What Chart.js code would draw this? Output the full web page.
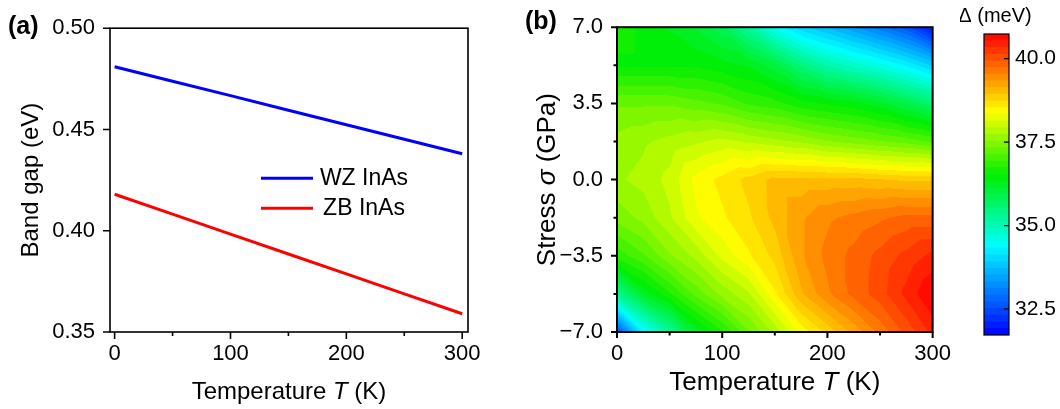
<!DOCTYPE html>
<html>
<head>
<meta charset="utf-8">
<title>InAs band gap and Δ(T, σ)</title>
<script src="https://cdn.jsdelivr.net/npm/chart.js@4.4.1/dist/chart.umd.min.js"></script>
<style>
  html, body { margin: 0; padding: 0; background: #ffffff; }
  #wrap { position: relative; width: 1060px; height: 409px; overflow: hidden; }
  .panel { position: absolute; top: 0; height: 409px; }
  canvas { display: block; }
</style>
</head>
<body>
<div id="wrap">
  <div class="panel" style="left:0;width:520px"><canvas id="gapChart" width="520" height="409"></canvas></div>
  <div class="panel" style="left:520px;width:440px"><canvas id="mapChart" width="440" height="409"></canvas></div>
  <div class="panel" style="left:960px;width:100px"><canvas id="barChart" width="100" height="409"></canvas></div>
</div>
<script>
const FONT = '"Liberation Sans", Arial, Helvetica, sans-serif';

// ---- (a) band gap versus temperature ----
const TEMP_A = [0, 50, 100, 150, 200, 250, 300];
const GAP_WZ = [0.4810, 0.4738, 0.4667, 0.4595, 0.4523, 0.4452, 0.4380];
const GAP_ZB = [0.4180, 0.4082, 0.3983, 0.3885, 0.3787, 0.3688, 0.3590];
const SERIES_NAMES = ['WZ InAs', 'ZB InAs'];
const GAP_TICKS = [0.35, 0.40, 0.45, 0.50];
const TEMP_TICKS = [0, 100, 200, 300];
const TEMP_MINOR = [50, 150, 250];

// ---- (b) splitting Δ (meV) over temperature and stress ----
const MAP_TEMPS = [0, 25, 50, 75, 100, 125, 150, 175, 200, 225, 250, 275, 300];
const MAP_STRESS = [-7, -5.25, -3.5, -1.75, 0, 1.75, 3.5, 5.25, 7];
// one row per stress value (low to high), one column per temperature
const DELTA_MEV = [
  [32.5, 34.3, 35.2, 36.2, 36.7, 37.3, 37.8, 38.4, 38.8, 39.2, 39.6, 40.0, 40.4],
  [35.3, 36.2, 36.7, 37.2, 37.6, 37.9, 38.5, 39.1, 39.5, 39.8, 40.05, 40.4, 40.74],
  [36.8, 37.1, 37.5, 37.8, 38.2, 38.5, 38.8, 39.3, 39.6, 39.8, 40.0, 40.2, 40.4],
  [37.4, 37.6, 37.9, 38.3, 38.5, 38.7, 39.0, 39.3, 39.5, 39.6, 39.7, 39.8, 39.8],
  [37.7, 37.8, 38.0, 38.4, 38.6, 38.8, 39.0, 39.0, 39.0, 39.0, 38.95, 38.9, 38.9],
  [37.6, 37.7, 37.8, 37.9, 38.0, 37.9, 37.8, 37.7, 37.55, 37.45, 37.35, 37.25, 37.1],
  [37.3, 37.3, 37.3, 37.2, 37.1, 36.9, 36.8, 36.6, 36.5, 36.4, 36.2, 35.9, 35.6],
  [36.5, 36.5, 36.5, 36.5, 36.4, 36.3, 36.0, 35.5, 35.1, 34.85, 34.6, 34.3, 33.9],
  [36.6, 36.5, 36.3, 36.1, 35.8, 35.2, 34.5, 34.0, 33.7, 33.35, 33.0, 32.6, 31.9]
];
const STRESS_TICKS = [-7, -3.5, 0, 3.5, 7];
const STRESS_MINOR = [-5.25, -1.75, 1.75, 5.25];
const DELTA_TICKS = [32.5, 35.0, 37.5, 40.0];
const DELTA_MIN = 31.72;
const DELTA_MAX = 40.74;
const N_BANDS = 45;

// rainbow palette used for the contour levels
const PALETTE = [
  [31.72, [0, 0, 255]],
  [34.40, [0, 255, 255]],
  [36.50, [0, 238, 0]],
  [38.40, [255, 255, 0]],
  [40.74, [255, 0, 0]]
];
function paletteColor(v) {
  if (v <= PALETTE[0][0]) return PALETTE[0][1];
  for (let k = 1; k < PALETTE.length; k++) {
    const [v1, c1] = PALETTE[k];
    const [v0, c0] = PALETTE[k - 1];
    if (v <= v1) {
      const f = (v - v0) / (v1 - v0);
      return c0.map((c, i) => Math.round(c + f * (c1[i] - c)));
    }
  }
  return PALETTE[PALETTE.length - 1][1];
}
const BAND_STEP = (DELTA_MAX - DELTA_MIN) / N_BANDS;
const BAND_COLORS = Array.from({ length: N_BANDS }, (_, i) => paletteColor(DELTA_MIN + (i + 0.5) * BAND_STEP));
const rgb = c => `rgb(${c[0]},${c[1]},${c[2]})`;
function bandIndex(v) {
  return Math.min(N_BANDS - 1, Math.max(0, Math.floor((v - DELTA_MIN) / BAND_STEP)));
}

// piecewise-linear (triangulated) value inside the T–σ grid
function locate(arr, v) {
  let i = 0;
  while (i < arr.length - 2 && v > arr[i + 1]) i++;
  return i;
}
function deltaAt(t, s) {
  const i = locate(MAP_TEMPS, t), j = locate(MAP_STRESS, s);
  const fx = Math.min(1, Math.max(0, (t - MAP_TEMPS[i]) / (MAP_TEMPS[i + 1] - MAP_TEMPS[i])));
  const fy = Math.min(1, Math.max(0, (s - MAP_STRESS[j]) / (MAP_STRESS[j + 1] - MAP_STRESS[j])));
  const v00 = DELTA_MEV[j][i], v10 = DELTA_MEV[j][i + 1];
  const v01 = DELTA_MEV[j + 1][i], v11 = DELTA_MEV[j + 1][i + 1];
  if (fx + fy <= 1) return v00 + fx * (v10 - v00) + fy * (v01 - v00);
  return v11 + (1 - fx) * (v01 - v11) + (1 - fy) * (v10 - v11);
}

// ---- shared plugins ----
// frame around the plot area plus major / minor tick marks
function axisMarks(frameWidth, marks) {
  return {
    id: 'axisMarks',
    afterDraw(chart) {
      const { ctx, chartArea: a } = chart;
      ctx.save();
      ctx.strokeStyle = '#000';
      ctx.lineCap = 'butt';
      for (const m of marks) {
        const sc = chart.scales[m.scale];
        ctx.lineWidth = m.width || frameWidth;
        ctx.beginPath();
        for (const v of m.values) {
          const p = sc.getPixelForValue(v);
          if (m.side === 'bottom') {
            const y0 = a.bottom, y1 = m.inward ? a.bottom - m.length : a.bottom + m.length;
            ctx.moveTo(p, y0); ctx.lineTo(p, y1);
          } else if (m.side === 'left') {
            const x0 = a.left, x1 = m.inward ? a.left + m.length : a.left - m.length;
            ctx.moveTo(x0, p); ctx.lineTo(x1, p);
          } else {
            const x0 = a.right, x1 = m.inward ? a.right - m.length : a.right + m.length;
            ctx.moveTo(x0, p); ctx.lineTo(x1, p);
          }
        }
        ctx.stroke();
      }
      ctx.lineWidth = frameWidth;
      ctx.strokeRect(a.left, a.top, a.right - a.left, a.bottom - a.top);
      ctx.restore();
    }
  };
}

// text made of plain and italic runs, placed relative to the plot area
function richText(items) {
  return {
    id: 'richText',
    afterDraw(chart) {
      const ctx = chart.ctx;
      for (const it of items) {
        const x = typeof it.x === 'function' ? it.x(chart) : it.x;
        const y = typeof it.y === 'function' ? it.y(chart) : it.y;
        const fontOf = s => `${s.italic ? 'italic ' : ''}${it.bold ? 'bold ' : ''}${it.size}px ${FONT}`;
        ctx.save();
        ctx.translate(x, y);
        if (it.rotate) ctx.rotate(it.rotate);
        ctx.fillStyle = '#000';
        ctx.textBaseline = 'middle';
        ctx.textAlign = 'left';
        let total = 0;
        for (const s of it.runs) { ctx.font = fontOf(s); total += ctx.measureText(s.text).width; }
        let cx = it.align === 'center' ? -total / 2 : 0;
        for (const s of it.runs) {
          ctx.font = fontOf(s);
          ctx.fillText(s.text, cx, 0);
          cx += ctx.measureText(s.text).width;
        }
        ctx.restore();
      }
    }
  };
}

// in-plot legend for panel (a)
const gapLegend = {
  id: 'gapLegend',
  afterDraw(chart) {
    const { ctx, chartArea: a } = chart;
    ctx.save();
    chart.data.datasets.forEach((ds, k) => {
      const y = a.top + 150 + k * 30;
      ctx.strokeStyle = ds.borderColor;
      ctx.lineWidth = ds.borderWidth;
      ctx.beginPath();
      ctx.moveTo(a.left + 151, y);
      ctx.lineTo(a.left + 203, y);
      ctx.stroke();
      ctx.fillStyle = '#000';
      ctx.font = `23px ${FONT}`;
      ctx.textAlign = 'center';
      ctx.textBaseline = 'middle';
      ctx.fillText(ds.label, a.left + 254, y);
    });
    ctx.restore();
  }
};

// filled contour map drawn behind the frame, sampled through the chart scales
const contourFill = {
  id: 'contourFill',
  beforeDatasetsDraw(chart) {
    const { ctx, chartArea: a, scales: { x, y } } = chart;
    const ss = 2;
    const w = Math.round(a.right - a.left), h = Math.round(a.bottom - a.top);
    const off = document.createElement('canvas');
    off.width = w * ss; off.height = h * ss;
    const octx = off.getContext('2d');
    const img = octx.createImageData(w * ss, h * ss);
    for (let py = 0; py < h * ss; py++) {
      const s = y.getValueForPixel(a.top + (py + 0.5) / ss);
      for (let px = 0; px < w * ss; px++) {
        const t = x.getValueForPixel(a.left + (px + 0.5) / ss);
        const c = BAND_COLORS[bandIndex(deltaAt(t, s))];
        const o = (py * w * ss + px) * 4;
        img.data[o] = c[0]; img.data[o + 1] = c[1]; img.data[o + 2] = c[2]; img.data[o + 3] = 255;
      }
    }
    octx.putImageData(img, 0, 0);
    ctx.save();
    ctx.imageSmoothingEnabled = true;
    ctx.drawImage(off, a.left, a.top, w, h);
    ctx.restore();
  }
};

const tickFont = { family: FONT, size: 22 };
const noGrid = { display: false, drawTicks: false, tickLength: 0 };
const pinTicks = values => scale => { scale.ticks = values.map(v => ({ value: v })); };

// ---- (a) ----
new Chart(document.getElementById('gapChart'), {
  type: 'line',
  data: {
    datasets: [
      { label: SERIES_NAMES[0], data: TEMP_A.map((t, i) => ({ x: t, y: GAP_WZ[i] })),
        borderColor: '#0000ff', borderWidth: 3, pointRadius: 0, tension: 0, fill: false },
      { label: SERIES_NAMES[1], data: TEMP_A.map((t, i) => ({ x: t, y: GAP_ZB[i] })),
        borderColor: '#ff0000', borderWidth: 3, pointRadius: 0, tension: 0, fill: false }
    ]
  },
  options: {
    responsive: false, animation: false, devicePixelRatio: 1,
    layout: { padding: { left: 0, top: 26, right: 52, bottom: 0 } },
    plugins: { legend: { display: false }, tooltip: { enabled: false }, title: { display: false } },
    scales: {
      x: {
        type: 'linear', min: -4, max: 305,
        afterBuildTicks: pinTicks(TEMP_TICKS),
        afterFit: s => { s.height = 77; },
        grid: noGrid, border: { display: false },
        ticks: { font: tickFont, color: '#000', padding: 9, maxRotation: 0, autoSkip: false, callback: v => String(v) }
      },
      y: {
        type: 'linear', min: 0.35, max: 0.50,
        afterBuildTicks: pinTicks(GAP_TICKS),
        afterFit: s => { s.width = 110; },
        grid: noGrid, border: { display: false },
        ticks: { font: tickFont, color: '#000', padding: 15, autoSkip: false, callback: v => v.toFixed(2) }
      }
    }
  },
  plugins: [
    axisMarks(1.6, [
      { scale: 'x', side: 'bottom', values: TEMP_TICKS, length: 7 },
      { scale: 'x', side: 'bottom', values: TEMP_MINOR, length: 4 },
      { scale: 'y', side: 'left', values: GAP_TICKS, length: 7 }
    ]),
    gapLegend,
    richText([
      { x: 8, y: 27, size: 25, bold: true, runs: [{ text: '(a)' }] },
      { x: c => (c.chartArea.left + c.chartArea.right) / 2, y: 392, size: 24, align: 'center',
        runs: [{ text: 'Temperature ' }, { text: 'T', italic: true }, { text: ' (K)' }] },
      { x: 31, y: c => (c.chartArea.top + c.chartArea.bottom) / 2, size: 24, align: 'center', rotate: -Math.PI / 2,
        runs: [{ text: 'Band gap (eV)' }] }
    ])
  ]
});

// ---- (b) ----
new Chart(document.getElementById('mapChart'), {
  type: 'scatter',
  data: { datasets: [] },
  options: {
    responsive: false, animation: false, devicePixelRatio: 1,
    layout: { padding: { left: 0, top: 27, right: 25, bottom: 0 } },
    plugins: { legend: { display: false }, tooltip: { enabled: false } },
    scales: {
      x: {
        type: 'linear', min: 0, max: 300,
        afterBuildTicks: pinTicks(TEMP_TICKS),
        afterFit: s => { s.height = 77; },
        grid: noGrid, border: { display: false },
        ticks: { font: tickFont, color: '#000', padding: 9, maxRotation: 0, autoSkip: false, callback: v => String(v) }
      },
      y: {
        type: 'linear', min: -7, max: 7,
        afterBuildTicks: pinTicks(STRESS_TICKS),
        afterFit: s => { s.width = 97; },
        grid: noGrid, border: { display: false },
        ticks: { font: tickFont, color: '#000', padding: 14, autoSkip: false,
          callback: v => (v < 0 ? '\u2212' : '') + Math.abs(v).toFixed(1) }
      }
    }
  },
  plugins: [
    contourFill,
    axisMarks(2, [
      { scale: 'x', side: 'bottom', values: TEMP_TICKS, length: 6 },
      { scale: 'x', side: 'bottom', values: TEMP_MINOR, length: 3.5 },
      { scale: 'y', side: 'left', values: STRESS_TICKS, length: 6 },
      { scale: 'y', side: 'left', values: STRESS_MINOR, length: 3.5 }
    ]),
    richText([
      { x: 5, y: 22, size: 25, bold: true, runs: [{ text: '(b)' }] },
      { x: c => (c.chartArea.left + c.chartArea.right) / 2, y: 383, size: 26, align: 'center',
        runs: [{ text: 'Temperature ' }, { text: 'T', italic: true }, { text: ' (K)' }] },
      { x: 28, y: c => (c.chartArea.top + c.chartArea.bottom) / 2, size: 26, align: 'center', rotate: -Math.PI / 2,
        runs: [{ text: 'Stress ' }, { text: 'σ', italic: true }, { text: ' (GPa)' }] }
    ])
  ]
});

// ---- colour scale for (b) ----
new Chart(document.getElementById('barChart'), {
  type: 'bar',
  data: {
    labels: ['Δ'],
    datasets: BAND_COLORS.map((c, i) => ({
      data: [[DELTA_MIN + i * BAND_STEP, DELTA_MIN + (i + 1) * BAND_STEP]],
      backgroundColor: rgb(c), borderWidth: 0, grouped: false,
      barPercentage: 1, categoryPercentage: 1
    }))
  },
  options: {
    responsive: false, animation: false, devicePixelRatio: 1,
    layout: { padding: { left: 24, top: 34, right: 0, bottom: 74 } },
    plugins: { legend: { display: false }, tooltip: { enabled: false } },
    scales: {
      x: { display: false },
      y: {
        position: 'right', min: DELTA_MIN, max: DELTA_MAX,
        afterBuildTicks: pinTicks(DELTA_TICKS),
        afterFit: s => { s.width = 51; },
        grid: noGrid, border: { display: false },
        ticks: { font: { family: FONT, size: 21 }, color: '#000', padding: 6, autoSkip: false, callback: v => v.toFixed(1) }
      }
    }
  },
  plugins: [
    axisMarks(1.2, [
      { scale: 'y', side: 'right', values: DELTA_TICKS, length: 5, inward: true }
    ]),
    richText([
      { x: 35, y: 16, size: 20, align: 'center', runs: [{ text: 'Δ (meV)' }] }
    ])
  ]
});
</script>
</body>
</html>
